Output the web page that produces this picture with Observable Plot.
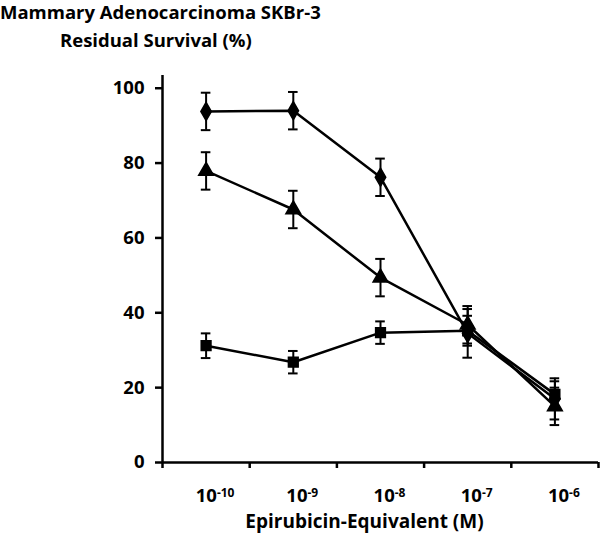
<!DOCTYPE html>
<html>
<head>
<meta charset="utf-8">
<script src="https://cdn.jsdelivr.net/npm/d3@7"></script>
<script src="https://cdn.jsdelivr.net/npm/@observablehq/plot@0.6"></script>
<style>
  body { margin: 0; background: #fff; }
  #wrap { position: relative; width: 600px; height: 536px; font-family: "Open Sans", sans-serif; font-weight: bold; color: #000; }
  .t { position: absolute; white-space: nowrap; font-size: 18.5px; line-height: 22px; font-weight: bold; }
  #wrap svg text { font-weight: bold; }
  #wrap g[aria-label="y-axis tick"] path, #wrap g[aria-label="x-axis tick"] path { stroke-width: 2.5px; }
</style>
</head>
<body>
<div id="wrap">
  <div class="t" style="left:0px; top:1px;">Mammary Adenocarcinoma SKBr-3</div>
  <div class="t" style="left:60px; top:29px;">Residual Survival (%)</div>
</div>
<script>
// log10 of Epirubicin-equivalent concentration (M)
const exponents = [-10, -9, -8, -7, -6];
const series = ["diamond", "triangle", "square"];
const diamondVals = [93.8, 94.0, 76.2, 34.5, 17.0];
const diamondErr  = [5.0, 5.0, 5.0, 6.5, 5.5];
const triangleVals = [77.9, 67.6, 49.4, 36.8, 15.0];
const triangleErr  = [5.0, 5.0, 5.0, 5.0, 5.0];
const squareVals = [31.2, 26.8, 34.7, 35.2, 18.2];
const squareErr  = [3.3, 3.0, 3.0, 4.0, 3.5];
const yTicks = [0, 20, 40, 60, 80, 100];
const xLabel = "Epirubicin-Equivalent (M)";

const valsBy = {diamond: diamondVals, triangle: triangleVals, square: squareVals};
const errBy = {diamond: diamondErr, triangle: triangleErr, square: squareErr};
const data = [];
for (const s of series) exponents.forEach((e, i) => data.push({s, x: e, y: valsBy[s][i], err: errBy[s][i]}));

const xMin = d3.min(exponents) - 0.5, xMax = d3.max(exponents) + 0.5;
const boundaries = d3.range(xMin, xMax + 0.01, 1);
const capHalf = 0.055;

const chart = Plot.plot({
  width: 600,
  height: 536,
  marginTop: 75,
  marginBottom: 74,
  marginLeft: 162,
  marginRight: 2,
  style: {fontFamily: "'Open Sans', sans-serif", fontSize: "18.5px", color: "#000", background: "#fff"},
  x: {domain: [xMin, xMax], ticks: boundaries, tickFormat: () => "", tickSize: 6, label: null},
  y: {domain: [0, 103.4], ticks: yTicks, tickSize: 7, tickPadding: 11, label: null},
  symbol: {domain: series, range: ["diamond", "triangle", "square"]},
  marks: [
    Plot.ruleX([xMin], {y1: 0, y2: 103.4, stroke: "#000", strokeWidth: 2.5}),
    Plot.ruleY([0], {x1: xMin, x2: xMax, stroke: "#000", strokeWidth: 2.5}),
    Plot.line(data, {x: "x", y: "y", z: "s", stroke: "#000", strokeWidth: 2.5}),
    Plot.ruleX(data, {x: "x", y1: d => d.y - d.err, y2: d => d.y + d.err, stroke: "#000", strokeWidth: 2}),
    Plot.ruleY(data, {y: d => d.y + d.err, x1: d => d.x - capHalf, x2: d => d.x + capHalf, stroke: "#000", strokeWidth: 2}),
    Plot.ruleY(data, {y: d => d.y - d.err, x1: d => d.x - capHalf, x2: d => d.x + capHalf, stroke: "#000", strokeWidth: 2}),
    Plot.dot(data, {x: "x", y: "y", symbol: "s", fill: "#000", stroke: "#000", r: 5.5}),
    Plot.text(exponents, {x: d => d, y: 0, text: d => "10^" + d, dy: 34, dx: 9, fontSize: 18.5, fontWeight: "bold", fill: "#000"}),
    Plot.text([xLabel], {frameAnchor: "bottom", dy: 65, dx: -16, text: d => d, fontSize: 19, fontWeight: "bold", fill: "#000"})
  ]
});

chart.querySelectorAll("text").forEach(t => {
  const s = t.textContent;
  if (s.startsWith("10^")) {
    const e = s.slice(3);
    t.textContent = "10";
    const ts = document.createElementNS("http://www.w3.org/2000/svg", "tspan");
    ts.setAttribute("dy", "-0.45em");
    ts.setAttribute("font-size", "12px");
    ts.textContent = e;
    t.appendChild(ts);
  }
});
chart.style.position = "absolute";
chart.style.left = "0";
chart.style.top = "0";
document.getElementById("wrap").prepend(chart);
</script>
</body>
</html>
